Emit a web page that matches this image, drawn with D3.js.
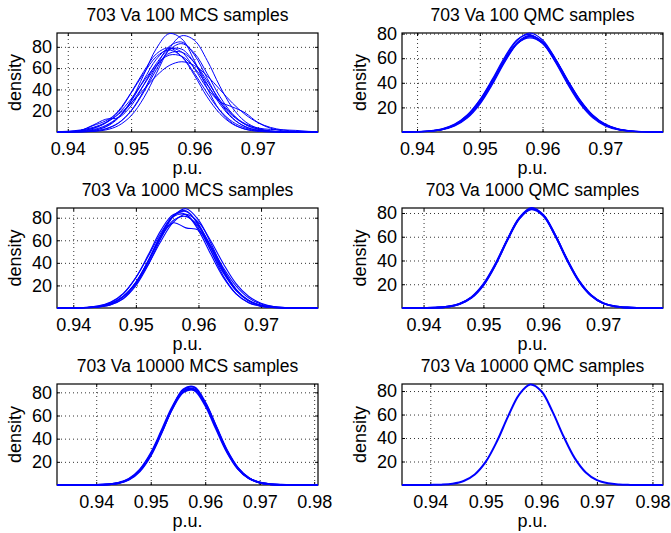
<!DOCTYPE html>
<html><head>
<meta charset="utf-8">
<script src="https://cdn.jsdelivr.net/npm/d3@7/dist/d3.min.js"></script>
<style>
body{margin:0;background:#fff}
svg{font-family:"Liberation Sans",Arial,Helvetica,sans-serif}
.grid line{stroke:#333;stroke-width:1;stroke-dasharray:1,3}
.grid path{display:none}
.tk path{display:none}
.tk line{stroke:#000}
.tk text{font-size:18px;fill:#000;font-family:"Liberation Sans",Arial,sans-serif}
.ttl{font-size:17.5px}
.lbl{font-size:18px}
</style>
</head><body>
<svg id="fig" width="671" height="533"></svg>
<script>
var xGrid = [0.932,0.934,0.936,0.938,0.940,0.942,0.944,0.946,0.948,0.950,0.952,0.954,0.956,
             0.958,0.960,0.962,0.964,0.966,0.968,0.970,0.972,0.974,0.976,0.978,0.980,0.982];

var titles = ["703 Va 100 MCS samples","703 Va 100 QMC samples",
              "703 Va 1000 MCS samples","703 Va 1000 QMC samples",
              "703 Va 10000 MCS samples","703 Va 10000 QMC samples"];

var xTicksA = [0.94,0.95,0.96,0.97];
var xTicksB = [0.94,0.95,0.96,0.97,0.98];
var yTicks = [20,40,60,80];

// axis limits of each subplot
var xLimits = [[0.9383,0.9795],[0.9376,0.9792],[0.9374,0.9791],[0.9364,0.9800],[0.9328,0.9807],[0.9349,0.9819]];
var yMax = [93,80.5,88.6,84.2,87.2,86];

// density curves, one array per run, values on xGrid
var mcs100 = [
 [0,0,0,0,0.1,0.3,1.4,4.7,13.2,29.6,53.8,78.6,92.4,87.5,66.8,41.1,20.3,8.1,2.6,0.7,0.1,0,0,0,0,0],
 [0,0,0,0,0,0.1,0.5,1.9,6.0,15.3,32.1,55.2,78.0,90.4,86.1,67.3,43.1,22.7,9.8,3.5,1.0,0.2,0,0,0,0],
 [0,0,0.1,0.3,0.7,1.9,4.3,8.9,16.5,27.1,40.0,52.8,62.4,66.0,62.4,52.8,40.0,27.1,16.5,8.9,4.3,1.9,0.7,0.3,0.1,0],
 [0,0,0,0,0.1,1.5,6.5,12.0,13.5,24.5,44.5,64.5,77.5,77.8,65.0,45.2,26.3,12.8,5.2,1.7,0.5,0.1,0,0,0,0],
 [0,0,0,0,0,0.5,1.7,5.4,13.8,28.9,49.0,68.5,78.5,75.0,59.5,41.0,28.5,23.5,18.0,9.0,3.5,1.0,0.3,0,0,0],
 [0,0,0,0,0,0.2,0.8,2.8,8.3,20.1,38.9,61.7,80.3,84.5,72.3,50.5,28.5,13.2,4.9,1.5,0.4,0.1,0,0,0,0],
 [0,0,0,0,0.2,0.8,2.4,6.2,14.0,27.0,44.2,61.9,73.9,75.0,65.0,48.0,30.1,16.1,7.8,3.8,2.4,2.0,1.5,0.6,0.1,0],
 [0,0,0,0,0.3,1.1,3.4,8.9,19.9,37.1,56.9,73.5,79.0,70.7,53.2,33.0,17.4,7.5,2.7,0.8,0.2,0,0,0,0,0],
 [0,0,0,0,0,0.2,0.9,3.1,8.6,19.6,37.5,58.8,76.9,83.0,74.0,54.9,33.4,17.0,7.1,2.5,0.7,0.2,0,0,0,0],
 [0,0,0,0.1,0.4,1.3,3.5,8.4,17.5,31.0,47.8,63.1,72.2,71.1,60.2,44.3,28.2,15.3,7.2,2.9,1.0,0.3,0.1,0,0,0],
 [0,0,0,0,0.4,1.3,6.0,10.5,19.0,36.6,55.1,70.8,77.0,70.8,55.1,36.6,20.4,9.6,3.8,1.3,0.4,0.1,0,0,0,0]
];
var qmc100 = [
 [0,0,0,0.1,0.2,0.7,2.1,5.6,12.6,24.7,41.4,59.9,74.8,80.5,74.8,59.9,41.4,24.7,12.6,5.6,2.1,0.7,0.2,0.1,0,0],
 [0,0,0,0.1,0.3,0.9,2.6,6.4,13.8,25.9,42.0,59.3,72.2,76.5,72.2,59.3,42.0,25.9,13.8,6.4,2.6,0.9,0.3,0.1,0,0],
 [0,0,0,0.1,0.2,0.6,1.8,4.9,11.3,22.5,38.6,57.0,72.0,78.0,73.5,60.0,42.3,25.8,13.5,6.1,2.4,0.8,0.2,0.1,0,0],
 [0,0,0,0.1,0.2,0.8,2.4,6.1,13.6,26.1,43.0,61.2,75.2,79.3,72.5,57.2,38.9,22.8,11.5,5.0,1.9,0.6,0.2,0.1,0,0],
 [0,0,0,0.1,0.2,0.7,2.1,5.5,12.3,23.9,40.0,57.8,72.0,77.5,72.0,57.8,40.0,23.9,12.3,5.5,2.1,0.7,0.2,0.1,0,0],
 [0,0,0,0.1,0.2,0.7,2.0,5.3,12.0,23.6,40.0,58.3,73.0,78.5,73.3,59.2,41.5,25.3,13.3,6.0,2.3,0.8,0.2,0.1,0,0]
];
var mcs1000 = [
 [0,0,0,0,0.1,0.3,1.2,3.8,10.1,22.8,41.9,64.4,81.4,85.5,74.3,53.2,31.8,15.6,6.4,2.1,0.6,0.1,0,0,0,0],
 [0,0,0,0,0,0.2,0.8,2.9,8.2,19.7,38.3,61.8,81.2,88.0,78.1,57.1,34.0,16.8,6.7,2.2,0.6,0.1,0,0,0,0],
 [0,0,0,0,0,0.3,1.1,3.6,9.8,22.5,42.5,64.0,75.5,71.0,69.0,53.5,33.0,16.4,6.8,2.3,0.6,0.1,0,0,0,0],
 [0,0,0,0,0.1,0.6,1.9,5.4,13.0,27.0,46.0,66.5,81.0,82.6,70.5,50.8,30.8,15.6,6.6,2.4,0.7,0.2,0,0,0,0],
 [0,0,0,0,0.1,0.4,1.4,4.2,10.4,21.6,39.0,59.2,76.1,83.0,76.1,59.2,39.0,21.6,10.4,4.2,1.4,0.4,0.1,0,0,0],
 [0,0,0,0,0.1,0.4,1.6,4.9,12.6,26.9,47.3,68.8,82.9,82.9,68.8,47.3,26.9,12.6,4.9,1.6,0.4,0.1,0,0,0,0],
 [0,0,0,0,0,0.4,1.3,4.0,10.3,22.7,41.5,62.2,77.7,81.2,72.5,55.0,35.5,19.5,9.0,3.5,1.2,0.3,0,0,0,0],
 [0,0,0,0,0,0.2,0.8,2.9,8.5,20.8,40.8,64.3,82.1,86.1,73.2,50.4,28.2,12.8,4.7,1.4,0.3,0,0,0,0,0]
];
var qmc1000 = [
 [0,0,0,0,0.1,0.3,1.1,3.4,8.8,19.5,36.4,57.2,75.5,83.8,78.2,61.3,40.5,22.4,10.5,4.0,1.4,0.4,0.1,0,0,0],
 [0,0,0,0,0.1,0.3,1.1,3.5,9.1,20.1,37.0,57.6,75.3,83.0,77.6,61.0,40.6,22.7,10.7,4.1,1.4,0.4,0.1,0,0,0],
 [0,0,0,0,0.1,0.3,1.0,3.3,8.6,19.3,36.3,57.4,75.9,84.2,78.3,61.0,40.0,22.1,10.4,4.0,1.4,0.4,0.1,0,0,0]
];
var mcs10000 = [
 [0,0,0,0,0.1,0.5,1.6,4.9,12.4,26.0,45.6,66.6,81.3,82.8,70.3,49.9,29.5,14.6,6.0,2.1,0.6,0.1,0,0,0,0],
 [0,0,0,0,0.1,0.4,1.4,4.5,11.8,25.2,45.0,66.8,82.6,84.5,71.4,50.2,29.1,14.2,5.8,2.0,0.6,0.1,0,0,0,0],
 [0,0,0,0,0.1,0.6,1.8,5.4,13.3,27.4,47.3,67.9,81.4,81.6,68.5,48.2,28.3,14.0,5.9,2.2,0.7,0.2,0,0,0,0],
 [0,0,0,0,0.1,0.5,1.6,5.0,12.8,26.5,46.0,66.0,80.0,82.0,70.8,50.8,30.1,14.9,6.1,2.1,0.6,0.1,0,0,0,0]
];
var qmc10000 = [
 [0,0,0,0,0.1,0.3,1.1,3.4,9.0,19.9,37.2,58.4,77.0,85.5,79.8,62.5,41.3,22.9,10.7,4.1,1.4,0.4,0.1,0,0,0]
];

var curveSets = [mcs100, qmc100, mcs1000, qmc1000, mcs10000, qmc10000];

// figure layout (pixels)
var colX = [57, 402], rowY = [33, 208, 384], rowH = [99, 100, 101], W = 261;
var lineW = [1, 1.2, 1.1, 1.9, 1.8, 2];

var svg = d3.select("#fig");

for (var p = 0; p < 6; p++) {
  var col = p % 2, row = Math.floor(p / 2), h = rowH[row];
  var xt = row == 2 ? xTicksB : xTicksA;
  var g = svg.append("g").attr("transform", "translate(" + colX[col] + "," + rowY[row] + ")");
  var x = d3.scaleLinear().domain(xLimits[p]).range([0, W]);
  var y = d3.scaleLinear().domain([0, yMax[p]]).range([h, 0]);

  // dotted grid
  g.append("g").attr("class", "grid").attr("transform", "translate(0," + h + ")")
    .call(d3.axisBottom(x).tickValues(xt).tickSize(-h).tickFormat(""));
  g.append("g").attr("class", "grid")
    .call(d3.axisLeft(y).tickValues(yTicks).tickSize(-W).tickFormat(""));

  // inward ticks on all four sides, labels on bottom / left
  g.append("g").attr("class", "tk").attr("transform", "translate(0," + h + ")")
    .call(d3.axisBottom(x).tickValues(xt).tickSize(-3).tickPadding(10).tickFormat(d3.format(".2f")));
  g.append("g").attr("class", "tk")
    .call(d3.axisTop(x).tickValues(xt).tickSize(-3).tickFormat(""));
  g.append("g").attr("class", "tk")
    .call(d3.axisLeft(y).tickValues(yTicks).tickSize(-3).tickPadding(5));
  g.append("g").attr("class", "tk").attr("transform", "translate(" + W + ",0)")
    .call(d3.axisRight(y).tickValues(yTicks).tickSize(-3).tickFormat(""));

  g.append("rect").attr("width", W).attr("height", h)
    .attr("fill", "none").attr("stroke", "#000").attr("stroke-width", 1.2);

  var cid = "clip" + p;
  g.append("clipPath").attr("id", cid).append("rect")
    .attr("x", 0).attr("y", -2).attr("width", W).attr("height", h + 4);

  var line = d3.line()
    .x(function(d, i) { return x(xGrid[i]); })
    .y(function(d) { return y(Math.max(0, d)); })
    .curve(d3.curveCatmullRom.alpha(0.5));

  g.append("g").attr("clip-path", "url(#" + cid + ")")
    .selectAll("path").data(curveSets[p]).enter().append("path")
    .attr("d", line).attr("fill", "none")
    .attr("stroke", "#0000ff").attr("stroke-width", lineW[p]);

  g.append("text").attr("class", "ttl").attr("x", W / 2).attr("y", -12.5)
    .attr("text-anchor", "middle").text(titles[p]);
  g.append("text").attr("class", "lbl").attr("x", W / 2).attr("y", h + 41.5)
    .attr("text-anchor", "middle").text("p.u.");
  g.append("text").attr("class", "lbl").attr("text-anchor", "middle")
    .attr("transform", "translate(-36.5," + (h / 2) + ") rotate(-90)").text("density");
}
</script>
</body></html>
